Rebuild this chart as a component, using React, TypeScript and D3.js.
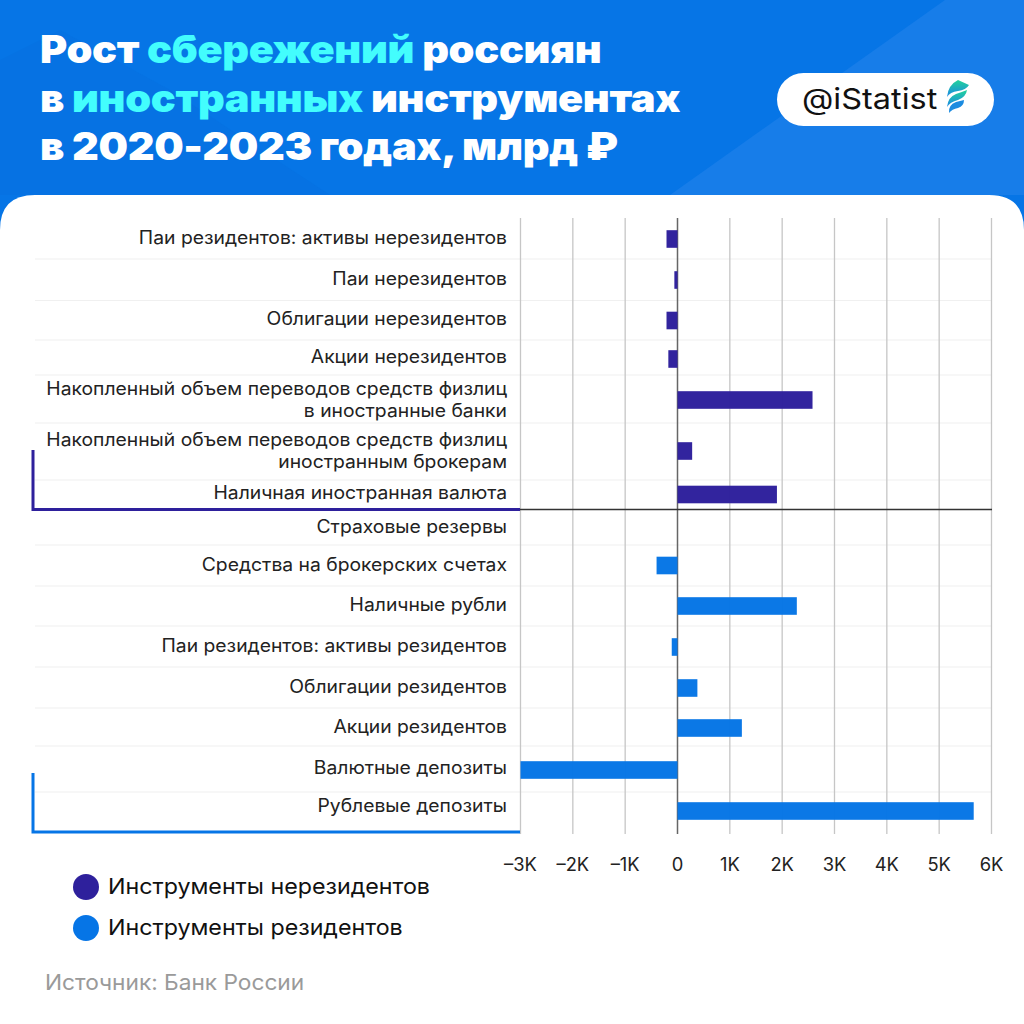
import React from "react";
import * as d3 from "d3";

const nonResLabels = [
  ["Паи резидентов: активы нерезидентов"],
  ["Паи нерезидентов"],
  ["Облигации нерезидентов"],
  ["Акции нерезидентов"],
  ["Накопленный объем переводов средств физлиц", "в иностранные банки"],
  ["Накопленный объем переводов средств физлиц", "иностранным брокерам"],
  ["Наличная иностранная валюта"],
];
const nonResValues = [-210, -60, -210, -175, 2580, 280, 1900];
const resLabels = [
  ["Страховые резервы"],
  ["Средства на брокерских счетах"],
  ["Наличные рубли"],
  ["Паи резидентов: активы резидентов"],
  ["Облигации резидентов"],
  ["Акции резидентов"],
  ["Валютные депозиты"],
  ["Рублевые депозиты"],
];
const resValues = [0, -400, 2280, -110, 380, 1230, -3000, 5660];
const xTicks = [-3000, -2000, -1000, 0, 1000, 2000, 3000, 4000, 5000, 6000];
const barCenters = [239, 280, 320.5, 359, 400, 451, 494.5, 527, 565.5, 606, 647, 688, 728, 770, 811];
const labelCenters = [238, 279, 319, 357, 400, 451, 492.5, 526.5, 564.5, 605, 646, 686.5, 726.5, 768, 805.5];
const rowSeparators = [259, 300.5, 340, 375, 423, 480, 545, 586, 626, 667, 708, 746, 792];
const legendItems = ["Инструменты нерезидентов", "Инструменты резидентов"];
const titleLines = [
  [["Рост ", false], ["сбережений", true], [" россиян", false]],
  [["в ", false], ["иностранных", true], [" инструментах", false]],
  [["в 2020-2023 годах, млрд ₽", false]],
] as [string, boolean][][];

const DARK = "#2e209c";
const BLUE = "#0675e6";
const FONT = "Inter, 'Noto Sans', sans-serif";

export default function App() {
  const x = d3.scaleLinear().domain([-3000, 6000]).range([520.5, 991.5]);
  const labels = [...nonResLabels, ...resLabels];
  const values = [...nonResValues, ...resValues];
  const tickLabel = (t: number) => (t === 0 ? "0" : `${t < 0 ? "–" : ""}${Math.abs(t) / 1000}K`);
  return (
    <svg
      width={1024}
      height={1024}
      viewBox="0 0 1024 1024"
      style={{ position: "absolute", left: 0, top: 0, display: "block" }}
      fontFamily={FONT}
    >
      <defs>
        <linearGradient id="leaf" x1="0" y1="0" x2="0" y2="1">
          <stop offset="0" stopColor="#22d39a" />
          <stop offset="1" stopColor="#1b86e6" />
        </linearGradient>
      </defs>
      <rect width={1024} height={1024} fill="#fff" />
      <rect width={1024} height={240} fill="#0675e6" />
      <path d="M0 60 L0 195 L330 195 L170 90 L60 30 Z" fill="#0570e0" opacity={0.5} />
      <path d="M670 195 L945 0 L1024 0 L1024 195 Z" fill="#177de9" />
      <path d="M0 230 Q0 195 35 195 H989 Q1024 195 1024 230 V1024 H0 Z" fill="#fff" />

      {titleLines.map((line, i) => (
        <text
          key={i}
          transform={`translate(40,${63 + i * 48.5}) scale(1.078,1)`}
          fontSize={38.5}
          fontWeight={900}
          fill="#fff"
          letterSpacing={-0.3}
          style={{ whiteSpace: "pre" }}
        >
          {line.map(([s, hi], j) => (
            <tspan key={j} fill={hi ? "#43fdfd" : "#fff"}>{s}</tspan>
          ))}
        </text>
      ))}

      <rect x={777} y={73} width={217} height={53} rx={26.5} fill="#fff" />
      <text transform="translate(802,109) scale(1.12,1)" fontSize={29} fill="#111">@iStatist</text>
      <path d="M947 97 Q948 85 958 80 L969 85 Q966 90 958 91 Q950 92 947 97 Z" fill="url(#leaf)" />
      <path d="M947 107 Q948 97 956 94 Q962 92 967 90 Q966 97 958 100 Q950 102 947 107 Z" fill="url(#leaf)" />
      <path d="M949 113 Q948 105 956 102 L964 100 Q964 106 958 108 Q952 109 949 113 Z" fill="#1b8be0" />

      {rowSeparators.map((y) => (
        <line key={y} x1={35} x2={992} y1={y} y2={y} stroke="#f0f0f0" strokeWidth={1.2} />
      ))}

      {xTicks.map((t) => (
        <line
          key={t}
          x1={x(t)}
          x2={x(t)}
          y1={218}
          y2={834}
          stroke={t === 0 ? "#666" : "#c6c6c6"}
          strokeWidth={t === 0 ? 1.5 : 1.3}
        />
      ))}

      {values.map((v, i) =>
        v === 0 ? null : (
          <rect
            key={i}
            x={x(Math.min(0, v))}
            y={barCenters[i] - 8.8}
            width={Math.abs(x(v) - x(0))}
            height={17.6}
            fill={i < 7 ? DARK : BLUE}
            opacity={0.98}
          />
        )
      )}

      {labels.map((lines, i) =>
        lines.map((l, j) => (
          <text
            key={`${i}-${j}`}
            transform={`translate(507,${labelCenters[i] + 6 + (lines.length === 2 ? (j === 0 ? -11 : 11) : 0)}) scale(1.073,1)`}
            textAnchor="end"
            fontSize={18}
            fill="#222"
          >
            {l}
          </text>
        ))
      )}

      <line x1={520} x2={992} y1={509.5} y2={509.5} stroke="#333" strokeWidth={1.5} />
      <path d="M33 450 V509.5 H520" fill="none" stroke={DARK} strokeWidth={3} />
      <path d="M33 773 V832 H520" fill="none" stroke={BLUE} strokeWidth={3} />

      {xTicks.map((t) => (
        <text key={t} transform={`translate(${x(t)},871) scale(1.02,1)`} fontSize={18} textAnchor="middle" fill="#222">
          {tickLabel(t)}
        </text>
      ))}

      {legendItems.map((s, i) => (
        <g key={s}>
          <circle cx={86} cy={887 + i * 41} r={13} fill={i === 0 ? DARK : BLUE} />
          <text transform={`translate(108,${894 + i * 41}) scale(1.056,1)`} fontSize={22} fill="#111">{s}</text>
        </g>
      ))}
      <text transform="translate(45,990) scale(1.055,1)" fontSize={21.5} fill="#9a9a9a">Источник: Банк России</text>
    </svg>
  );
}
